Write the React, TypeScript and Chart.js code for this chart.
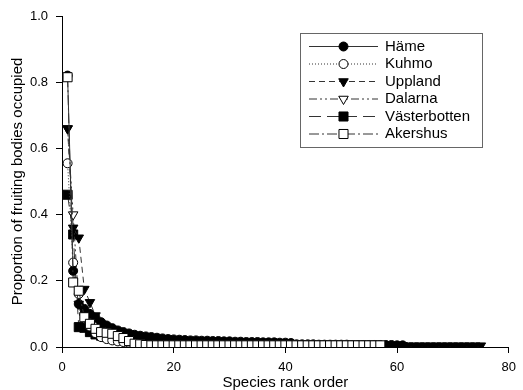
import React, { useEffect, useRef } from "react";
import { Chart, registerables } from "chart.js";

Chart.register(...registerables);

const seriesNames = ["Häme", "Kuhmo", "Uppland", "Dalarna", "Västerbotten", "Akershus"];

const hame = [
  0.82, 0.23, 0.13, 0.115, 0.1, 0.088, 0.075, 0.065, 0.057, 0.05,
  0.045, 0.041, 0.037, 0.034, 0.032, 0.03, 0.028, 0.026, 0.024, 0.023,
  0.022, 0.021, 0.02, 0.02, 0.019, 0.019, 0.018, 0.018, 0.017, 0.017,
  0.016, 0.016, 0.015, 0.015, 0.015, 0.014, 0.014, 0.014, 0.013, 0.013,
  0.012, 0.008, 0.008, 0.008, 0.008, 0.007, 0.007, 0.007, 0.007, 0.007,
  0.007, 0.006, 0.006, 0.006, 0.006, 0.006, 0.006, 0.006, 0.006, 0.005,
  0.005,
];
const kuhmo = [
  0.555, 0.255, 0.16, 0.1, 0.062, 0.042, 0.03, 0.024, 0.02, 0.017,
  0.015, 0.013, 0.011, 0.01, 0.009, 0.008, 0.008, 0.007, 0.007, 0.006,
  0.006, 0.006, 0.005, 0.005, 0.005, 0.005, 0.004, 0.004, 0.004, 0.004,
  0.004, 0.004,
];
const uppland = [
  0.66, 0.36, 0.33, 0.175, 0.135, 0.095, 0.07, 0.055, 0.046, 0.04,
  0.035, 0.031, 0.028, 0.025, 0.023, 0.021, 0.019, 0.017, 0.016, 0.015,
  0.014, 0.013, 0.012, 0.011, 0.011, 0.01, 0.01, 0.009, 0.009, 0.009,
  0.008, 0.008, 0.008, 0.008, 0.007, 0.007, 0.007, 0.007, 0.007, 0.006,
  0.006, 0.006, 0.006, 0.006, 0.006, 0.005, 0.005, 0.005, 0.005, 0.005,
  0.005, 0.005, 0.005, 0.005, 0.005, 0.005, 0.005, 0.005, 0.005, 0.005,
  0.005, 0.004, 0.004, 0.004, 0.004, 0.004, 0.004, 0.004, 0.004, 0.004,
  0.004, 0.004, 0.004, 0.004, 0.004,
];
const dalarna = [
  0.66, 0.4, 0.13, 0.09, 0.065, 0.048, 0.038, 0.031, 0.026, 0.022,
  0.019, 0.017, 0.015, 0.013, 0.012, 0.011, 0.01, 0.009, 0.008, 0.008,
  0.007, 0.007, 0.006, 0.006, 0.005, 0.005, 0.005, 0.005,
];
const vasterbotten = [
  0.46, 0.34, 0.06, 0.058, 0.045, 0.038, 0.034, 0.03, 0.028, 0.026,
  0.024, 0.022, 0.021, 0.02, 0.019, 0.018, 0.017, 0.016, 0.015, 0.015,
  0.014, 0.014, 0.013, 0.013, 0.012, 0.012, 0.011, 0.011, 0.011, 0.01,
  0.01, 0.01, 0.009, 0.009, 0.009, 0.008, 0.008, 0.008,
];
const akershus = [
  0.815, 0.195, 0.17, 0.09, 0.07, 0.055, 0.045, 0.043, 0.04, 0.033,
  0.027, 0.018, 0.01, 0.008, 0.006, 0.005, 0.005, 0.005, 0.005, 0.005,
  0.005, 0.005, 0.005, 0.005, 0.005, 0.005, 0.005, 0.005, 0.005, 0.005,
  0.005, 0.005, 0.005, 0.005, 0.005, 0.005, 0.005, 0.005, 0.005, 0.005,
  0.005, 0.005, 0.005, 0.005, 0.005, 0.005, 0.005, 0.005, 0.005, 0.005,
  0.005, 0.005, 0.005, 0.005, 0.005, 0.005, 0.005,
];

const xTicks = [0, 20, 40, 60, 80];
const yTicks = [0, 0.2, 0.4, 0.6, 0.8, 1.0];

const FONT = "'Liberation Sans', Arial, sans-serif";

type Style = {
  dash: number[];
  pointStyle: string;
  rotation: number;
  radius: number;
  fill: string;
};

const styles: Style[] = [
  { dash: [], pointStyle: "circle", rotation: 0, radius: 4.5, fill: "#000" },
  { dash: [1, 2], pointStyle: "circle", rotation: 0, radius: 4.5, fill: "#fff" },
  { dash: [6, 4], pointStyle: "triangle", rotation: 180, radius: 5.5, fill: "#000" },
  { dash: [8, 3, 2, 3, 2, 3], pointStyle: "triangle", rotation: 180, radius: 5.5, fill: "#fff" },
  { dash: [12, 6], pointStyle: "rect", rotation: 0, radius: 6.4, fill: "#000" },
  { dash: [10, 3, 2, 3], pointStyle: "rect", rotation: 0, radius: 6.4, fill: "#fff" },
];

const allValues = [hame, kuhmo, uppland, dalarna, vasterbotten, akershus];

function drawMarker(ctx: CanvasRenderingContext2D, st: Style, x: number, y: number) {
  ctx.beginPath();
  const r = st.radius;
  if (st.pointStyle === "circle") {
    ctx.arc(x, y, r, 0, Math.PI * 2);
  } else if (st.pointStyle === "triangle") {
    // downward-pointing triangle
    const h = r * Math.sin(Math.PI / 3);
    ctx.moveTo(x - h, y - r / 2);
    ctx.lineTo(x + h, y - r / 2);
    ctx.lineTo(x, y + r);
    ctx.closePath();
  } else {
    const s = r * Math.SQRT1_2;
    ctx.rect(x - s, y - s, 2 * s, 2 * s);
  }
  ctx.fillStyle = st.fill;
  ctx.fill();
  ctx.strokeStyle = "#000";
  ctx.lineWidth = 1;
  ctx.stroke();
}

const legendPlugin = {
  id: "customLegend",
  afterDraw(chart: any) {
    const ctx = chart.ctx as CanvasRenderingContext2D;
    ctx.save();
    const bx = 300.5, by = 33.5, bw = 182, bh = 114;
    ctx.strokeStyle = "#666";
    ctx.lineWidth = 1;
    ctx.setLineDash([]);
    ctx.fillStyle = "#fff";
    ctx.fillRect(bx, by, bw, bh);
    ctx.strokeRect(bx, by, bw, bh);
    seriesNames.forEach((name, i) => {
      const st = styles[i];
      const y = 46.5 + i * 17.5;
      ctx.beginPath();
      ctx.setLineDash(st.dash);
      ctx.strokeStyle = "#333";
      ctx.lineWidth = 1;
      ctx.moveTo(309, y);
      ctx.lineTo(378, y);
      ctx.stroke();
      ctx.setLineDash([]);
      drawMarker(ctx, st, 343.5, y);
      ctx.fillStyle = "#000";
      ctx.font = `15px ${FONT}`;
      ctx.textBaseline = "middle";
      ctx.textAlign = "left";
      ctx.fillText(name, 385, y);
    });
    ctx.restore();
  },
};

export default function App() {
  const ref = useRef<HTMLCanvasElement>(null);
  useEffect(() => {
    if (!ref.current) return;
    const datasets = allValues.map((vals, i) => {
      const st = styles[i];
      return {
        label: seriesNames[i],
        data: vals.map((v, k) => ({ x: k + 1, y: v })),
        borderColor: "#333",
        borderWidth: 1,
        borderDash: st.dash,
        pointStyle: st.pointStyle,
        pointRotation: st.rotation,
        pointRadius: st.radius,
        pointBackgroundColor: st.fill,
        pointBorderColor: "#000",
        pointBorderWidth: 1,
        fill: false,
        tension: 0,
        order: i === 5 ? 0 : i + 1,
      };
    });
    const chart = new Chart(ref.current, {
      type: "line",
      data: { datasets },
      options: {
        animation: false,
        responsive: true,
        maintainAspectRatio: false,
        layout: { padding: { top: 16, right: 6, left: 0, bottom: 0 } },
        plugins: { legend: { display: false }, tooltip: { enabled: false } },
        scales: {
          x: {
            type: "linear",
            min: 0,
            max: 80,
            afterFit: (s: any) => { s.height = 43; },
            afterBuildTicks: (s: any) => { s.ticks = xTicks.map((v) => ({ value: v })); },
            grid: { drawOnChartArea: false, drawTicks: true, tickLength: 6, color: "#000" },
            border: { display: true, color: "#000", width: 1 },
            ticks: { color: "#000", font: { family: FONT, size: 13 }, padding: 7, callback: (v: any) => String(v) },
            title: { display: true, text: "Species rank order", color: "#000", font: { family: FONT, size: 15, lineHeight: 1 }, padding: 0 },
          },
          y: {
            type: "linear",
            min: 0,
            max: 1,
            afterFit: (s: any) => { s.width = 62; },
            afterBuildTicks: (s: any) => { s.ticks = yTicks.map((v) => ({ value: v })); },
            grid: { drawOnChartArea: false, drawTicks: true, tickLength: 6, color: "#000" },
            border: { display: true, color: "#000", width: 1 },
            ticks: { color: "#000", font: { family: FONT, size: 13 }, padding: 8, callback: (v: any) => Number(v).toFixed(1) },
            title: { display: true, text: "Proportion of fruiting bodies occupied", color: "#000", font: { family: FONT, size: 15, lineHeight: 1 }, padding: { top: 10, bottom: 0 } },
          },
        },
      } as any,
      plugins: [legendPlugin],
    });
    return () => chart.destroy();
  }, []);
  return (
    <div style={{ position: "fixed", left: 0, top: 0, width: 523, height: 390, background: "#fff" }}>
      <canvas ref={ref} />
    </div>
  );
}
